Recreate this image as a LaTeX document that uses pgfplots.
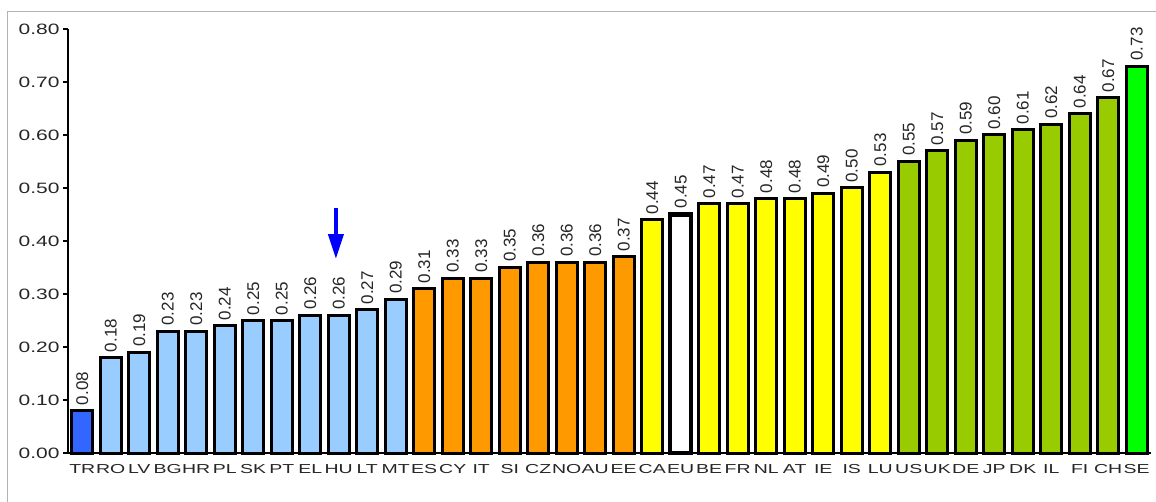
\documentclass[border=0pt]{standalone}
\usepackage{pgfplots}
\pgfplotsset{compat=1.18}
\usepackage{fontspec}
\setmainfont{Liberation Sans}
\newfontfamily\wide{Liberation Sans}[FakeStretch=1.4]
\newfontfamily\wider{Liberation Sans}[FakeStretch=1.5]
\usetikzlibrary{arrows.meta}

\definecolor{trblue}{HTML}{3366FF}
\definecolor{ltblue}{HTML}{99CCFF}
\definecolor{orng}{HTML}{FF9900}
\definecolor{yell}{HTML}{FFFF00}
\definecolor{olive}{HTML}{99CC00}
\definecolor{brgreen}{HTML}{00FF00}

\begin{document}
\begin{tikzpicture}
\useasboundingbox (0,0) rectangle (1156pt,501pt);
% light frame round the chart
\draw[black!30, line width=1pt] (7.5pt,-5pt) -- (7.5pt,489.5pt) -- (1165pt,489.5pt);
\begin{axis}[
    at={(68pt,48pt)}, anchor=south west,
    scale only axis,
    width=1083pt, height=424pt,
    xmin=-0.5, xmax=37.5,
    ymin=0, ymax=0.8,
    clip=false,
    axis x line*=bottom,
    axis y line*=left,
    axis line style={line width=1.3pt, -},
    xtick={0,...,37},
    xticklabels={TR,RO,LV,BG,HR,PL,SK,PT,EL,HU,LT,MT,ES,CY,IT,SI,CZ,NO,AU,EE,CA,EU,BE,FR,NL,AT,IE,IS,LU,US,UK,DE,JP,DK,IL,FI,CH,SE},
    x tick style={draw=none},
    extra x ticks={-0.5,0.5,...,37.5},
    extra x tick labels={},
    extra x tick style={major tick length=5pt, tick style={draw=black, line width=1.3pt}, tick align=outside},
    xticklabel style={font=\wider\fontsize{13}{13}\selectfont, yshift=-3pt, text=black!85},
    ytick={0,0.1,...,0.8},
    y tick style={line width=1.3pt, black},
    tick align=outside,
    major tick length=5pt,
    yticklabel style={font=\wide\fontsize{15}{15}\selectfont, text=black!85, /pgf/number format/fixed, /pgf/number format/zerofill, /pgf/number format/precision=2, /pgf/number format/assume math mode=true},
    every axis plot/.append style={
        ybar, bar width=21pt, bar shift=0pt, draw=black, line width=3pt,
        nodes near coords,
        every node near coord/.append style={rotate=90, anchor=west, font=\fontsize{17}{17}\selectfont, text=black!85, /pgf/number format/fixed, /pgf/number format/zerofill, /pgf/number format/precision=2, /pgf/number format/assume math mode=true, inner sep=4pt},
    },
]
\addplot[fill=trblue] coordinates {(0,0.08)};
\addplot[fill=ltblue] coordinates {(1,0.18) (2,0.19) (3,0.23) (4,0.23) (5,0.24) (6,0.25) (7,0.25) (8,0.26) (9,0.26) (10,0.27) (11,0.29)};
\addplot[fill=orng] coordinates {(12,0.31) (13,0.33) (14,0.33) (15,0.35) (16,0.36) (17,0.36) (18,0.36) (19,0.37)};
\addplot[fill=yell] coordinates {(20,0.44) (22,0.47) (23,0.47) (24,0.48) (25,0.48) (26,0.49) (27,0.50) (28,0.53)};
\addplot[fill=white, line width=4.5pt] coordinates {(21,0.45)};
\addplot[fill=olive] coordinates {(29,0.55) (30,0.57) (31,0.59) (32,0.60) (33,0.61) (34,0.62) (35,0.64) (36,0.67)};
\addplot[fill=brgreen] coordinates {(37,0.73)};
\draw[blue, line width=4pt, -{Triangle[width=15pt,length=25pt]}] (axis cs:8.9,0.462) -- (axis cs:8.9,0.366);
\end{axis}
\end{tikzpicture}
\end{document}
